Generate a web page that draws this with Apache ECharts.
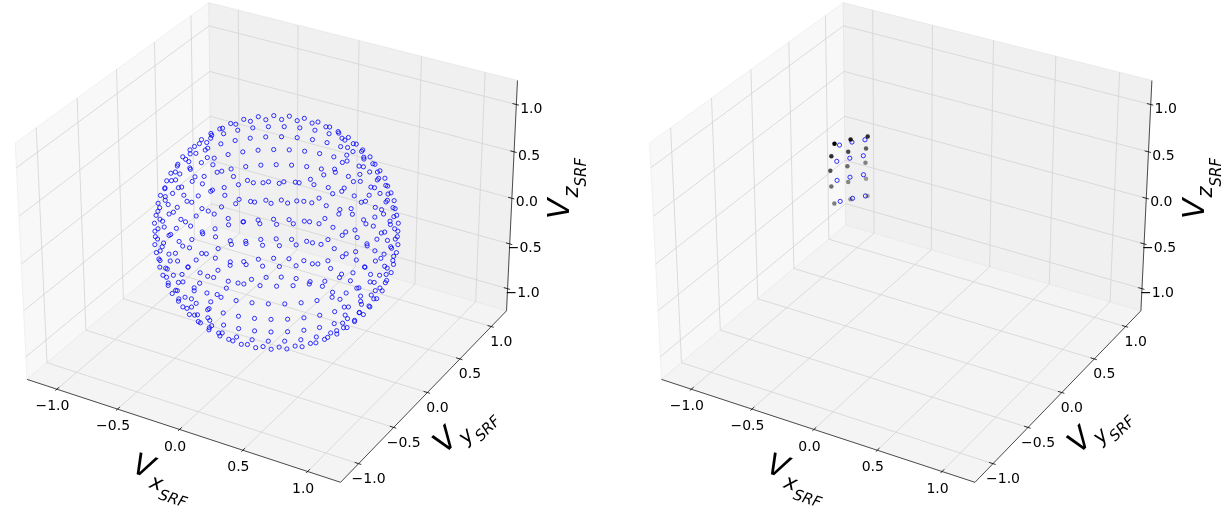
<!DOCTYPE html>
<html><head><meta charset="utf-8">
<script src="https://cdn.jsdelivr.net/npm/echarts@6.0.0/dist/echarts.min.js"></script>
<style>html,body{margin:0;padding:0;background:#fff;}#chart{width:1223px;height:510px;}</style>
</head><body><div id="chart"></div>
<script>
// ---------------- data ----------------
const tickValues = [-1.0, -0.5, 0.0, 0.5, 1.0];
const tickLabels = ['\u22121.0', '\u22120.5', '0.0', '0.5', '1.0'];
const axisLimits = [-1.2, 1.2];
const axisNames = ['x', 'y', 'z'];
// left panel: iso-latitude rings of velocity directions
const sphereRingLatDeg = [-55, -45, -35, -25, -15, -5, 5, 15, 25, 35, 45, 55];
const sphereRingCount  = [28, 34, 39, 43, 46, 48, 48, 46, 43, 39, 34, 28];
const sphereRingPhaseDeg = [0, 5.3, 0, 4.2, 0, 3.75, 0, 3.9, 0, 4.6, 0, 6.4];
const sphereRadiusXY = 0.85;
const sphereRadiusZ = 1.07;
const sphereCenter = [0.04, 0, 0];
// right panel: small patch of directions
const patchBlueAzDeg = [150, 144, 138];
const patchBlueLatDeg = [18, 6, -6, -18];
const patchBlackAzDeg = [153, 145, 137];
const patchBlackLatDeg = [20.5, 10.8, 1.1, -8.6, -18.2];

// ---------------- view / layout ----------------
const D = Math.PI / 180;
const VIEW = {elev: 30, azim: -60, dist: 10};
const BOX = [4, 4, 3];
const PANEL_LEFT = [0, 634.4];
const PANEL_W = [611, 588.6];
const SCALE = 2895, ORIGIN_X = 271.4, ORIGIN_Y = 230.5;
const E = axisLimits[1] + (axisLimits[1] - axisLimits[0]) / 48; // pane extent

function dot(a, b) { return a[0]*b[0] + a[1]*b[1] + a[2]*b[2]; }
const project = (function () {
  const n = Math.hypot(BOX[0], BOX[1], BOX[2]);
  const k = 1.8294640721620434 * 25 / 24 / n;
  const asp = BOX.map(v => v * k);
  const e = VIEW.elev * D, a = VIEW.azim * D;
  const w = [Math.cos(e)*Math.cos(a), Math.cos(e)*Math.sin(a), Math.sin(e)];
  let u = [-w[1], w[0], 0];
  const un = Math.hypot(u[0], u[1], u[2]); u = u.map(c => c / un);
  const v = [w[1]*u[2]-w[2]*u[1], w[2]*u[0]-w[0]*u[2], w[0]*u[1]-w[1]*u[0]];
  function delta(p) { return p.map((val, i) => ((val - axisLimits[0]) / (axisLimits[1] - axisLimits[0]) - 0.5) * asp[i]); }
  const f = function (p) {
    const d = delta(p);
    const den = VIEW.dist - dot(w, d);
    return [dot(u, d) / den, dot(v, d) / den];
  };
  f.depth = function (p) { return -dot(w, delta(p)); };
  return f;
})();

function sph(az, lat, rxy, rz, c) {
  const cl = Math.cos(lat*D);
  return [c[0] + rxy*cl*Math.cos(az*D), c[1] + rxy*cl*Math.sin(az*D), c[2] + rz*Math.sin(lat*D)];
}
const spherePts = [];
sphereRingLatDeg.forEach((lat, r) => {
  const n = sphereRingCount[r];
  for (let j = 0; j < n; j++) spherePts.push(sph(sphereRingPhaseDeg[r] + j * 360 / n, lat, sphereRadiusXY, sphereRadiusZ, sphereCenter));
});
const bluePatch = [];
patchBlueLatDeg.forEach(lat => patchBlueAzDeg.forEach(az => bluePatch.push(sph(az, lat, 1, 1, [0,0,0]))));
const blackPatch = [];
patchBlackLatDeg.forEach(lat => patchBlackAzDeg.forEach(az => blackPatch.push(sph(az, lat, 1, 1, [0,0,0]))));
const blackDepth = blackPatch.map(p => project.depth(p));
const dMin = Math.min(...blackDepth), dMax = Math.max(...blackDepth);

// ---------------- box geometry ----------------
const PANES = [
  {c: [[-E,-E,-E],[-E,E,-E],[-E,E,E],[-E,-E,E]], fill: '#f8f8f8', stroke: '#eeeeee'},
  {c: [[-E,E,-E],[E,E,-E],[E,E,E],[-E,E,E]], fill: '#f0f0f0', stroke: '#e6e6e6'},
  {c: [[-E,-E,-E],[E,-E,-E],[E,E,-E],[-E,E,-E]], fill: '#f4f4f4', stroke: '#eaeaea'}
];
function gridPath(ax, t) {
  if (ax === 0) return [[t,-E,-E],[t,E,-E],[t,E,E]];
  if (ax === 1) return [[E,t,-E],[-E,t,-E],[-E,t,E]];
  return [[E,E,t],[-E,E,t],[-E,-E,t]];
}
const AXIS_LINES = [[[-E,-E,-E],[E,-E,-E]], [[E,-E,-E],[E,E,-E]], [[E,E,-E],[E,E,E]]];
const TICK_IN = 0.03, TICK_OUT = 0.02;
function tickSeg(ax, t) {
  if (ax === 0) return [[t,-E+TICK_IN,-E],[t,-E-TICK_OUT,-E]];
  if (ax === 1) return [[E-TICK_IN,t,-E],[E+TICK_OUT,t,-E]];
  return [[E-TICK_IN,E,t],[E+TICK_OUT,E,t]];
}
function tickAnchor(ax, t) {
  if (ax === 0) return [t,-E,-E];
  if (ax === 1) return [E,t,-E];
  return [E,E,t];
}
const TICKLABEL_OFFSET = [[-4.5, 17.5], [10, 15.5], [15, 4.5]];
const AXIS_LABEL_POS = [[162.8, 474.5, -18], [461.6, 426.6, 45], [561.6, 188.5, 90]];

// ---------------- option ----------------
const grids = [], xAxes = [], yAxes = [], series = [], graphics = [];
const tickItems = [];
for (let a = 0; a < 3; a++) for (let i = 0; i < tickValues.length; i++) tickItems.push([0, 0, a, i]);

for (let g = 0; g < 2; g++) {
  grids.push({left: PANEL_LEFT[g], top: 0, width: PANEL_W[g], height: 510});
  xAxes.push({type: 'value', gridIndex: g, show: false, min: -ORIGIN_X / SCALE, max: (PANEL_W[g] - ORIGIN_X) / SCALE});
  yAxes.push({type: 'value', gridIndex: g, show: false, min: (ORIGIN_Y - 510) / SCALE, max: ORIGIN_Y / SCALE});
  const base = {type: 'custom', xAxisIndex: g, yAxisIndex: g, coordinateSystem: 'cartesian2d', silent: true, animation: false, encode: {x: 0, y: 1}};
  series.push(Object.assign({}, base, {
    z: 1, data: PANES.map((p, i) => [0, 0, i]),
    renderItem: function (params, api) {
      const p = PANES[api.value(2)];
      return {type: 'polygon', shape: {points: p.c.map(c => api.coord(project(c)))}, style: {fill: p.fill, stroke: p.stroke, lineWidth: 0.8}};
    }
  }));
  series.push(Object.assign({}, base, {
    z: 2, data: tickItems,
    renderItem: function (params, api) {
      const pts = gridPath(api.value(2), tickValues[api.value(3)]).map(c => api.coord(project(c)));
      return {type: 'polyline', shape: {points: pts}, style: {stroke: '#d3d3d3', lineWidth: 0.8, fill: null}};
    }
  }));
  series.push(Object.assign({}, base, {
    z: 3, data: AXIS_LINES.map((l, i) => [0, 0, i]),
    renderItem: function (params, api) {
      const pts = AXIS_LINES[api.value(2)].map(c => api.coord(project(c)));
      return {type: 'polyline', shape: {points: pts}, style: {stroke: '#222', lineWidth: 0.8, fill: null}};
    }
  }));
  series.push(Object.assign({}, base, {
    z: 3, data: tickItems,
    renderItem: function (params, api) {
      const pts = tickSeg(api.value(2), tickValues[api.value(3)]).map(c => api.coord(project(c)));
      return {type: 'polyline', shape: {points: pts}, style: {stroke: '#000', lineWidth: 0.8, fill: null}};
    }
  }));
  series.push(Object.assign({}, base, {
    z: 4, data: tickItems,
    renderItem: function (params, api) {
      const a = api.value(2), i = api.value(3);
      const pt = api.coord(project(tickAnchor(a, tickValues[i])));
      return {type: 'text', x: pt[0] + TICKLABEL_OFFSET[a][0], y: pt[1] + TICKLABEL_OFFSET[a][1],
        style: {text: tickLabels[i], fontSize: 14, fontFamily: 'DejaVu Sans', fill: '#000', align: 'center', verticalAlign: 'middle'}};
    }
  }));
  AXIS_LABEL_POS.forEach((pos, a) => {
    graphics.push({
      type: 'text', x: PANEL_LEFT[g] + pos[0], y: pos[1], rotation: pos[2] * D, silent: true, z: 10,
      style: {
        text: '{v|V}{s|' + axisNames[a] + '}{ss|SRF}', align: 'center', verticalAlign: 'middle',
        rich: {
          v: {fontSize: 30, lineHeight: 30, fontFamily: 'DejaVu Sans', fontStyle: 'italic', fill: '#000', verticalAlign: 'top'},
          s: {fontSize: 21, lineHeight: 21, fontFamily: 'DejaVu Sans', fontStyle: 'italic', fill: '#000', verticalAlign: 'top', padding: [15.5, 0, 0, 1]},
          ss: {fontSize: 15, lineHeight: 15, fontFamily: 'DejaVu Sans', fontStyle: 'italic', fill: '#000', verticalAlign: 'top', padding: [28.2, 0, 0, 0]}
        }
      }
    });
  });
}

series.push({
  type: 'scatter', xAxisIndex: 0, yAxisIndex: 0, z: 6, silent: true, animation: false,
  symbol: 'circle', symbolSize: 4.2,
  itemStyle: {color: 'rgba(0,0,0,0)', borderColor: '#0000ff', borderWidth: 1},
  data: spherePts.map(p => project(p))
});
series.push({
  type: 'scatter', xAxisIndex: 1, yAxisIndex: 1, z: 6, silent: true, animation: false,
  symbol: 'circle', symbolSize: 4.2,
  itemStyle: {color: 'rgba(0,0,0,0)', borderColor: '#0000ff', borderWidth: 1},
  data: bluePatch.map(p => project(p))
});
series.push({
  type: 'scatter', xAxisIndex: 1, yAxisIndex: 1, z: 7, silent: true, animation: false,
  symbol: 'circle', symbolSize: 4.5,
  data: blackPatch.map((p, i) => ({value: project(p), itemStyle: {color: '#000', opacity: 1 - 0.7 * (blackDepth[i] - dMin) / (dMax - dMin)}}))
});

const chart = echarts.init(document.getElementById('chart'));
chart.setOption({
  backgroundColor: '#ffffff',
  animation: false,
  grid: grids, xAxis: xAxes, yAxis: yAxes,
  series: series,
  graphic: graphics
});
</script></body></html>
